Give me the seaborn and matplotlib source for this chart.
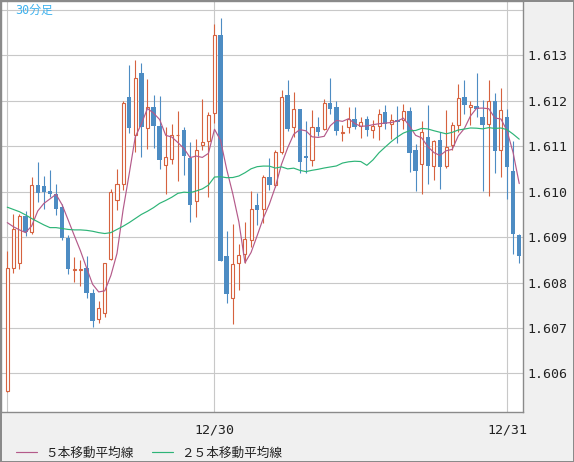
import numpy as np
import pandas as pd
import matplotlib
matplotlib.use('Agg')
import matplotlib.pyplot as plt
import seaborn as sns

# 30-minute candles (index 0 = first bar on the left)
opens = [1.60561, 1.60831, 1.60844, 1.60946, 1.60912, 1.61015, 1.61012, 1.61001, 1.60995, 1.60966,
         1.60899, 1.60828, 1.60828, 1.60833, 1.60778, 1.60719, 1.60732, 1.60852, 1.60981, 1.61018,
         1.61208, 1.61126, 1.61261, 1.61141, 1.61186, 1.61145, 1.61059, 1.61073, 1.61124, 1.61136,
         1.61075, 1.60979, 1.61102, 1.61111, 1.61174, 1.61345, 1.60858, 1.60767, 1.60842, 1.60862,
         1.60893, 1.60971, 1.60963, 1.61032, 1.61014, 1.61088, 1.61212, 1.61142, 1.61183, 1.61079,
         1.61069, 1.61142, 1.61139, 1.61195, 1.61186, 1.61129, 1.61142, 1.61161, 1.61145, 1.61161,
         1.61136, 1.61145, 1.61175, 1.61149, 1.61159, 1.61159, 1.61178, 1.61092, 1.61062, 1.61120,
         1.61056, 1.61114, 1.61056, 1.61103, 1.61146, 1.61208, 1.61187, 1.61189, 1.61164, 1.61149,
         1.61200, 1.61093, 1.61164, 1.61046, 1.60905]
highs = [1.60870, 1.60951, 1.60952, 1.60958, 1.61033, 1.61065, 1.61034, 1.61048, 1.61016, 1.60973,
         1.60905, 1.60857, 1.60850, 1.60858, 1.60786, 1.60759, 1.60842, 1.61007, 1.61049, 1.61200,
         1.61279, 1.61290, 1.61284, 1.61248, 1.61213, 1.61211, 1.61143, 1.61149, 1.61178, 1.61142,
         1.61109, 1.61116, 1.61204, 1.61175, 1.61369, 1.61382, 1.60913, 1.60929, 1.60886, 1.60933,
         1.61001, 1.60997, 1.61037, 1.61074, 1.61093, 1.61225, 1.61246, 1.61219, 1.61183, 1.61156,
         1.61180, 1.61165, 1.61204, 1.61250, 1.61200, 1.61147, 1.61186, 1.61186, 1.61164, 1.61167,
         1.61158, 1.61182, 1.61191, 1.61172, 1.61189, 1.61193, 1.61187, 1.61105, 1.61156, 1.61191,
         1.61114, 1.61132, 1.61180, 1.61153, 1.61237, 1.61246, 1.61200, 1.61262, 1.61203, 1.61246,
         1.61217, 1.61228, 1.61183, 1.61112, 1.60908]
lows = [1.60560, 1.60822, 1.60829, 1.60902, 1.60908, 1.60978, 1.60963, 1.60989, 1.60949, 1.60894,
        1.60819, 1.60802, 1.60793, 1.60767, 1.60703, 1.60712, 1.60725, 1.60850, 1.60960, 1.61004,
        1.61130, 1.61088, 1.61077, 1.61095, 1.61097, 1.61051, 1.60996, 1.61060, 1.61024, 1.61037,
        1.60934, 1.60945, 1.61092, 1.60989, 1.61152, 1.60848, 1.60756, 1.60708, 1.60783, 1.60842,
        1.60879, 1.60927, 1.60932, 1.61004, 1.61011, 1.61084, 1.61134, 1.61121, 1.61042, 1.61042,
        1.61057, 1.61123, 1.61136, 1.61172, 1.61126, 1.61112, 1.61130, 1.61139, 1.61119, 1.61123,
        1.61119, 1.61114, 1.61139, 1.61117, 1.61108, 1.61138, 1.61044, 1.61002, 1.60994, 1.61018,
        1.61026, 1.61005, 1.61053, 1.61092, 1.61132, 1.61172, 1.61147, 1.61165, 1.61001, 1.60990,
        1.61042, 1.61032, 1.60984, 1.60864, 1.60844]
closes = [1.60833, 1.60917, 1.60946, 1.60912, 1.61015, 1.60998, 1.61000, 1.60996, 1.60963, 1.60899,
          1.60829, 1.60830, 1.60830, 1.60776, 1.60716, 1.60745, 1.60842, 1.60999, 1.61018, 1.61195,
          1.61141, 1.61250, 1.61143, 1.61187, 1.61145, 1.61070, 1.61076, 1.61124, 1.61126, 1.61079,
          1.60971, 1.61093, 1.61109, 1.61170, 1.61345, 1.60848, 1.60775, 1.60840, 1.60860, 1.60895,
          1.60961, 1.60960, 1.61032, 1.61015, 1.61088, 1.61208, 1.61139, 1.61183, 1.61066, 1.61075,
          1.61142, 1.61132, 1.61195, 1.61183, 1.61134, 1.61131, 1.61161, 1.61142, 1.61153, 1.61137,
          1.61145, 1.61172, 1.61149, 1.61159, 1.61153, 1.61177, 1.61086, 1.61046, 1.61131, 1.61057,
          1.61111, 1.61054, 1.61098, 1.61146, 1.61206, 1.61192, 1.61192, 1.61183, 1.61148, 1.61199,
          1.61090, 1.61181, 1.61054, 1.60906, 1.60859]

# moving average values at the left edge (they depend on bars before the window)
ma5_head = [1.60932, 1.60923, 1.60916, 1.60910]
ma25_head = [1.60966, 1.60961, 1.60956, 1.60949, 1.60941, 1.60934, 1.60927, 1.60921, 1.60921, 1.60919,
             1.60917, 1.60916, 1.60916, 1.60915, 1.60913, 1.60910, 1.60908, 1.60910, 1.60917, 1.60924,
             1.60932, 1.60941, 1.60950, 1.60957]

xtick_pos = [0, 34, 82]
xtick_labels = ['', '12/30', '12/31']
ytick_vals = [1.606, 1.607, 1.608, 1.609, 1.610, 1.611, 1.612, 1.613, 1.614]
ytick_labels = ['1.606', '1.607', '1.608', '1.609', '1.610', '1.611', '1.612', '1.613', '']
title = '30分足'
legend_labels = ['５本移動平均線', '２５本移動平均線']

RED = '#d6623f'
BLUE = '#4d8cc3'
PINK = '#b45a8a'
GREEN = '#2db477'

df = pd.DataFrame({'open': opens, 'high': highs, 'low': lows, 'close': closes})
df['idx'] = np.arange(len(df))
df['ma5'] = df['close'].rolling(5).mean()
df.loc[:3, 'ma5'] = ma5_head
df['ma25'] = df['close'].rolling(25).mean()
df.loc[:23, 'ma25'] = ma25_head

sns.set_theme(style='white')
plt.rcParams['font.family'] = ['DejaVu Sans Mono', 'Noto Sans CJK JP']

fig = plt.figure(figsize=(5.74, 4.62), dpi=100, facecolor='#f0f0f0')
fig.patch.set_edgecolor('#8a8a8a')
fig.patch.set_linewidth(2)
ax = fig.add_axes([1/574, 50/462, 522/574, 411/462])
ax.set_facecolor('white')

up = df[df['close'] >= df['open']]
dn = df[df['close'] < df['open']]

ax.vlines(up['idx'], up['low'], up['high'], color=RED, lw=0.8, zorder=2)
ax.vlines(dn['idx'], dn['low'], dn['high'], color=BLUE, lw=0.8, zorder=2)
ax.bar(up['idx'], up['close'] - up['open'], bottom=up['open'], width=0.5,
       facecolor='white', edgecolor=RED, linewidth=0.8, zorder=3)
ax.bar(dn['idx'], dn['open'] - dn['close'], bottom=dn['close'], width=0.72,
       color=BLUE, linewidth=0, zorder=3)

sns.lineplot(data=df, x='idx', y='ma5', color=PINK, lw=0.85, ax=ax, label=legend_labels[0], zorder=4)
sns.lineplot(data=df, x='idx', y='ma25', color=GREEN, lw=0.85, ax=ax, label=legend_labels[1], zorder=4)

ax.set_xlim(-1.03, 84.62)
ax.set_ylim(1.60515, 1.61420)
ax.set_xticks(xtick_pos)
ax.set_xticklabels(xtick_labels)
ax.set_yticks(ytick_vals)
ax.set_yticklabels(ytick_labels)
ax.yaxis.tick_right()
ax.set_xlabel('')
ax.set_ylabel('')
ax.grid(True, color='#c8c8c8', lw=0.8)
ax.set_axisbelow(True)
ax.tick_params(axis='both', length=0, labelsize=9.5, colors='#222222')
ax.tick_params(axis='y', pad=3)
ax.tick_params(axis='x', pad=8)
for s in ax.spines.values():
    s.set_color('#8a8a8a')
    s.set_linewidth(1)

h, l = ax.get_legend_handles_labels()
ax.legend(h, l, loc='center left', bbox_to_anchor=(16/574, 9/462), bbox_transform=fig.transFigure,
          frameon=False, ncol=2, handlelength=1.65, handletextpad=0.63, columnspacing=1.5,
          borderpad=0, borderaxespad=0, labelcolor='#222222',
          prop={'family': ['Noto Sans CJK JP', 'DejaVu Sans'], 'size': 9.1})

fig.text(15/574, 1 - 10/462, title, color='#3fb2ee', fontsize=8.5, ha='left', va='center')

fig.savefig('out.png', dpi=100)
